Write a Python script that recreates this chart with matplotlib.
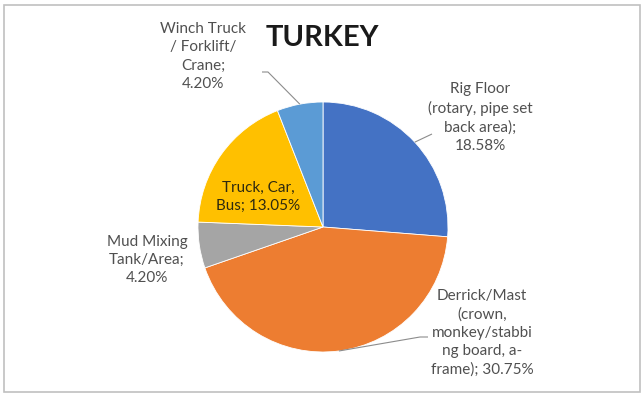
import numpy as np
import matplotlib.pyplot as plt
from matplotlib.patches import Rectangle

# Share of incidents by location on the rig
labels = [
    'Rig Floor\n(rotary, pipe set\nback area);\n18.58%',
    'Derrick/Mast\n(crown,\nmonkey/stabbi\nng board, a-\nframe); 30.75%',
    'Mud Mixing\nTank/Area;\n4.20%',
    'Truck, Car,\nBus; 13.05%',
    'Winch Truck\n/ Forklift/\nCrane;\n4.20%',
]
values = [18.58, 30.75, 4.20, 13.05, 4.20]
colors = ['#4472C4', '#ED7D31', '#A5A5A5', '#FFC000', '#5B9BD5']

W, H = 642, 394
fig = plt.figure(figsize=(W / 100, H / 100), dpi=100)
ax = fig.add_axes([0, 0, 1, 1])

def py(y):
    # pixel row (top origin) -> data y
    return H - y

cx, cy, r = 323, py(227), 125
wedges, _ = ax.pie(values, colors=colors, startangle=90, counterclock=False,
                   center=(cx, cy), radius=r,
                   wedgeprops=dict(edgecolor='white', linewidth=0.6))
ax.set_xlim(0, W)
ax.set_ylim(0, H)
ax.set_aspect('equal')
ax.axis('off')

font = 'Lato'
txt = '#505050'

ax.text(322, py(38), 'TURKEY', ha='center', va='center', fontsize=21,
        fontweight='bold', color='#1a1a1a', family=font)

def edge_point(w):
    a = np.deg2rad((w.theta1 + w.theta2) / 2)
    return cx + r * np.cos(a), cy + r * np.sin(a)

# label positions (x, y) and leader elbows
label_pos = {0: (480, 117.5), 1: (482, 333), 2: (147, 260), 4: (203, 56.5)}
leaders = {0: [(432, 134)],
           1: [(420, 337), (428, 337)],
           4: [(268, 72), (262, 72)]}

for i, (x, y) in label_pos.items():
    ax.text(x, py(y), labels[i], ha='center', va='center', fontsize=11,
            color=txt, family=font, linespacing=1.38)
    if i in leaders:
        ex, ey = edge_point(wedges[i])
        pts = [(ex, ey)] + [(px, py(p)) for px, p in leaders[i]]
        ax.plot([p[0] for p in pts], [p[1] for p in pts], color='#8c8c8c',
                lw=0.8, solid_capstyle='butt')

# label inside the gold wedge
ax.text(258, py(197), labels[3], ha='center', va='center', fontsize=11,
        color='#2e2a10', family=font, linespacing=1.38)

fig.add_artist(Rectangle((4 / W, 2 / H), 636 / W, 387 / H, transform=fig.transFigure,
                         fill=False, edgecolor='#c0c0c0', linewidth=1.2))

fig.savefig('out.png', dpi=100, facecolor='white')
